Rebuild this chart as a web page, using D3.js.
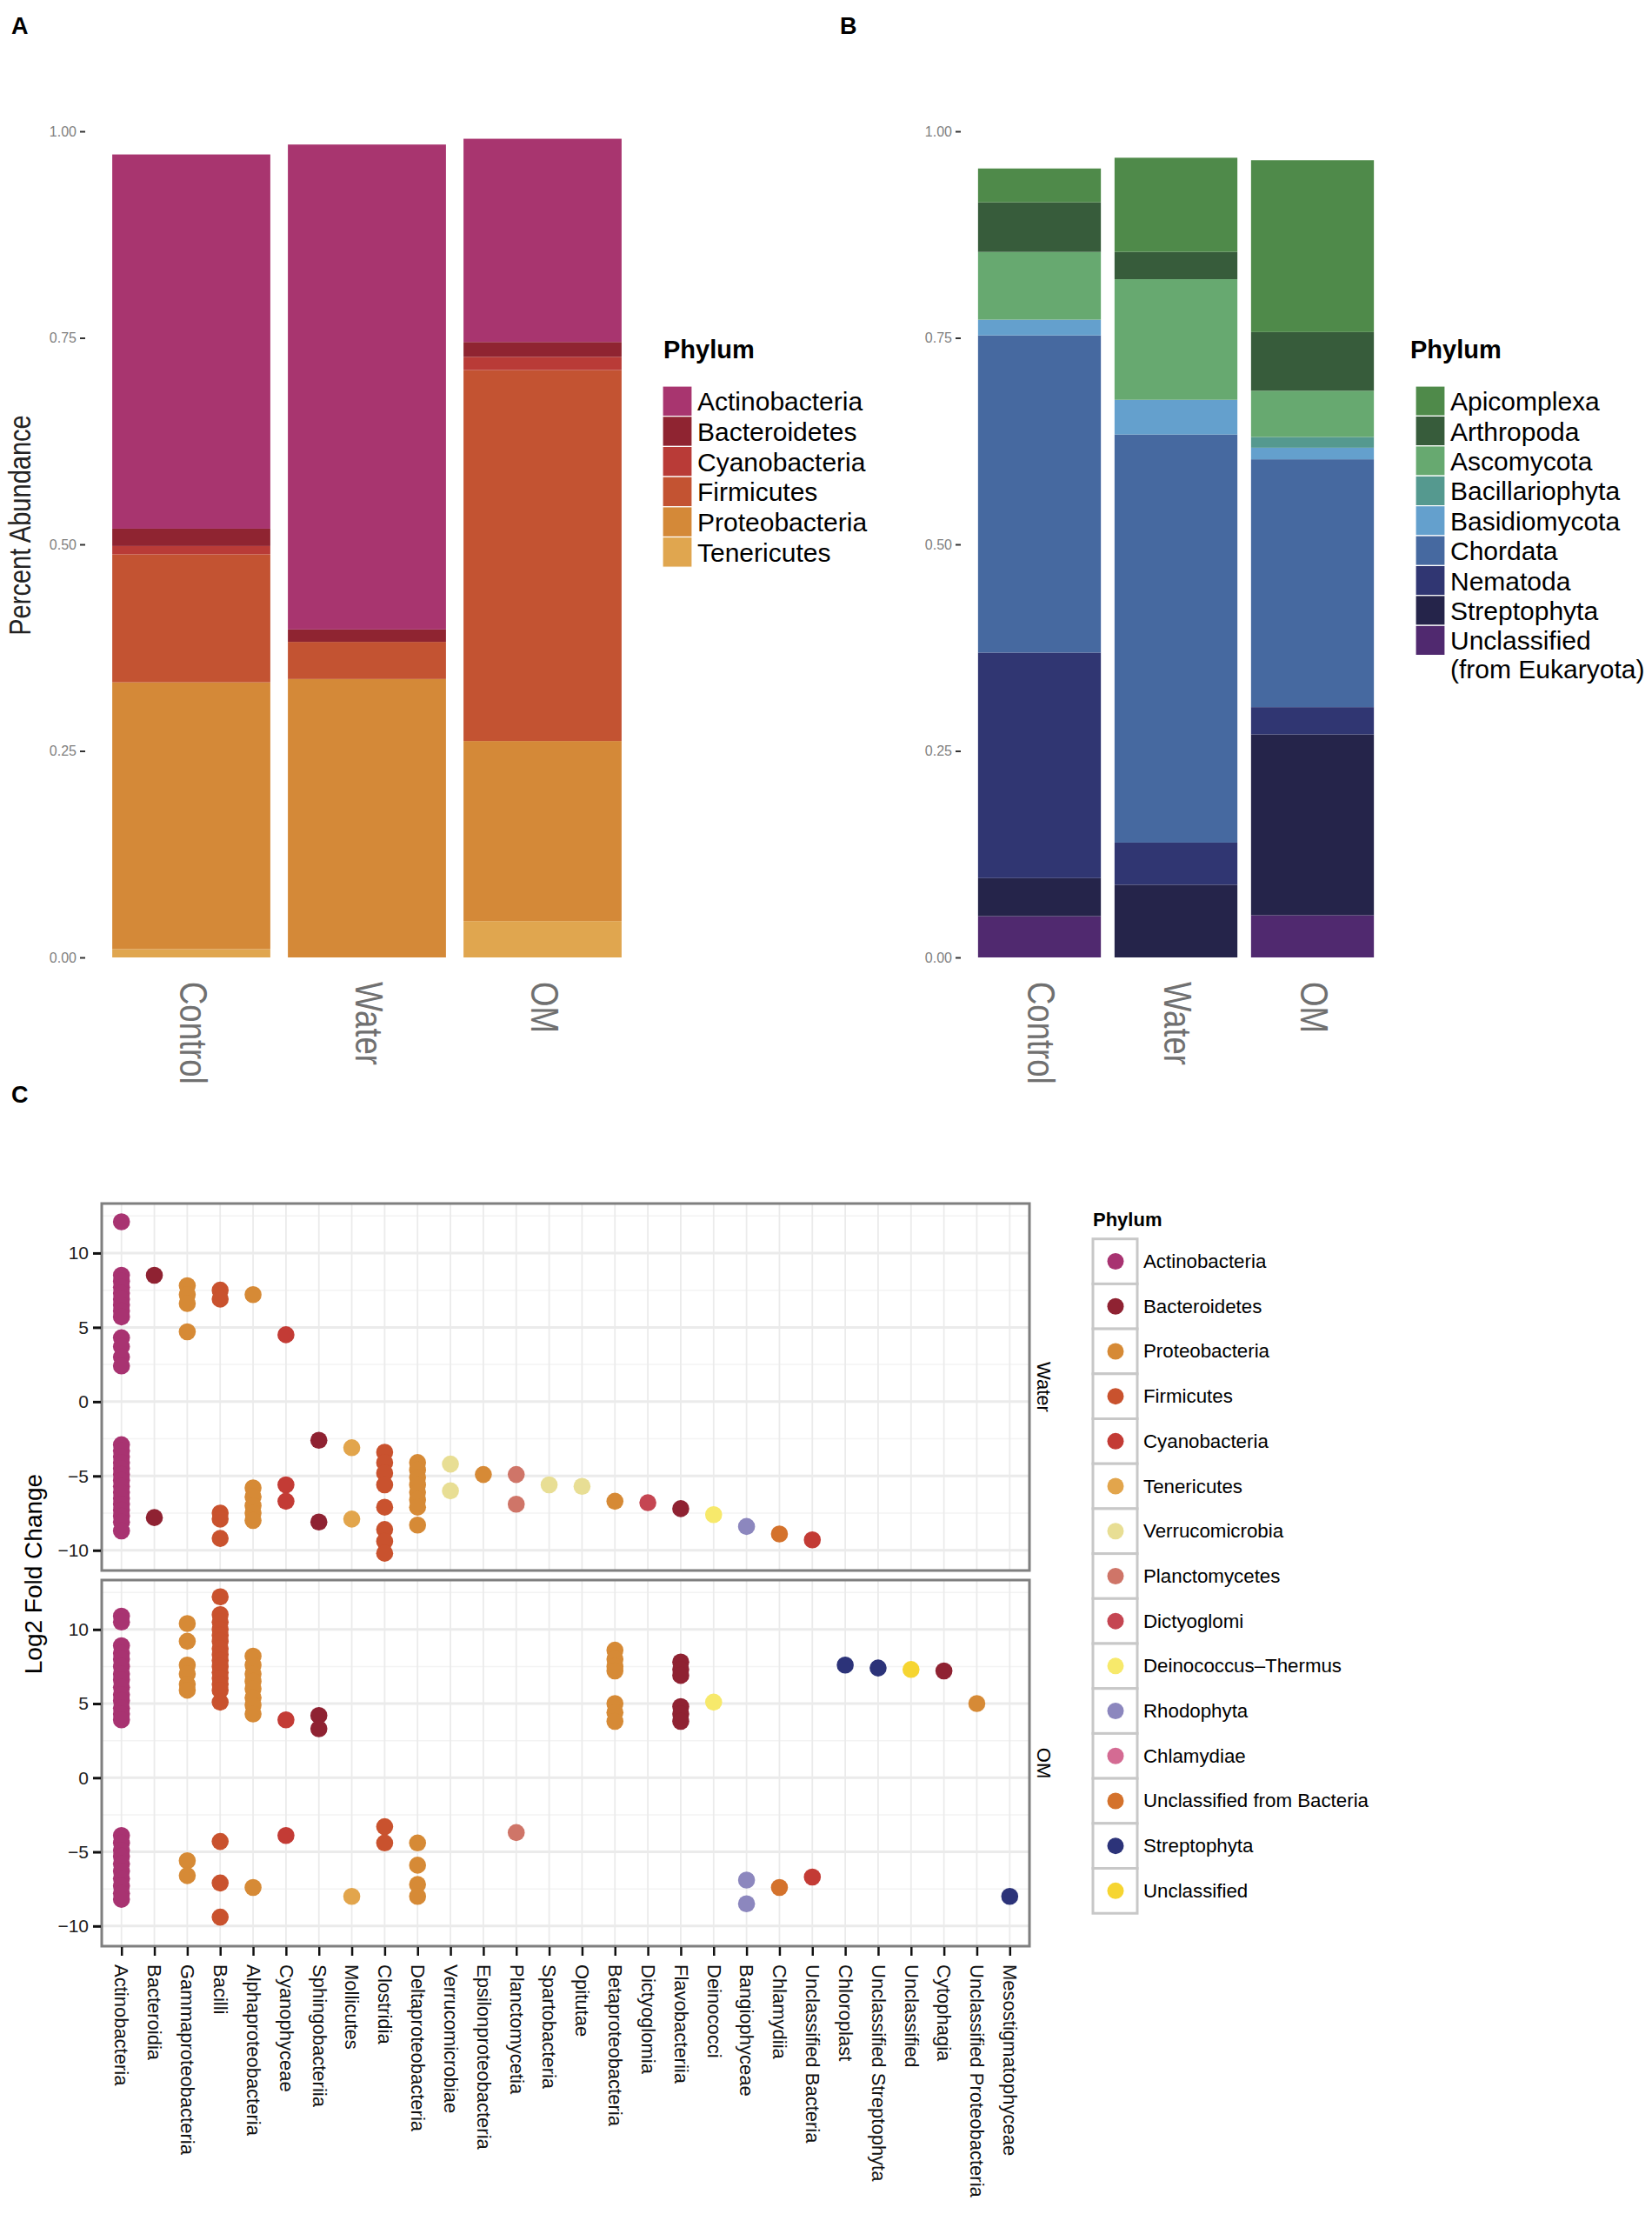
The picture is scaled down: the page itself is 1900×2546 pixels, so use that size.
<!DOCTYPE html>
<html>
<head>
<meta charset="utf-8">
<script src="https://cdn.jsdelivr.net/npm/d3@7"></script>
<style>
  body { margin: 0; background: #fff; }
  text { font-family: "Liberation Sans", Arial, Helvetica, sans-serif; }
</style>
</head>
<body>
<script>
// ---------- data: panels A / B (relative abundance) ----------
var treatments = ["Control", "Water", "OM"];

var bactPhyla = ["Actinobacteria", "Bacteroidetes", "Cyanobacteria", "Firmicutes", "Proteobacteria", "Tenericutes"];
var bactControl = [0.453, 0.021, 0.010, 0.155, 0.323, 0.010];
var bactWater   = [0.587, 0.015, 0.000, 0.045, 0.337, 0.000];
var bactOM      = [0.246, 0.018, 0.016, 0.449, 0.218, 0.044];

var eukPhyla = ["Apicomplexa", "Arthropoda", "Ascomycota", "Bacillariophyta", "Basidiomycota",
  "Chordata", "Nematoda", "Streptophyta", "Unclassified"];
var eukControl = [0.041, 0.060, 0.082, 0.000, 0.019, 0.384, 0.273, 0.046, 0.050];
var eukWater   = [0.114, 0.033, 0.146, 0.000, 0.042, 0.494, 0.051, 0.088, 0.000];
var eukOM      = [0.208, 0.071, 0.056, 0.013, 0.014, 0.300, 0.033, 0.219, 0.051];

var abTicks = [0, 0.25, 0.5, 0.75, 1];

// ---------- data: panel C (log2 fold change per class) ----------
var classes = ["Actinobacteria", "Bacteroidia", "Gammaproteobacteria", "Bacilli", "Alphaproteobacteria",
  "Cyanophyceae", "Sphingobacteriia", "Mollicutes", "Clostridia", "Deltaproteobacteria",
  "Verrucomicrobiae", "Epsilonproteobacteria", "Planctomycetia", "Spartobacteria", "Opitutae",
  "Betaproteobacteria", "Dictyoglomia", "Flavobacteriia", "Deinococci", "Bangiophyceae",
  "Chlamydiia", "Unclassified Bacteria", "Chloroplast", "Unclassified Streptophyta", "Unclassified",
  "Cytophagia", "Unclassified Proteobacteria", "Mesostigmatophyceae"];

// phylum (colour group) of each class, as it appears in the figure
var classPhylum = ["Actinobacteria", "Bacteroidetes", "Proteobacteria", "Firmicutes", "Proteobacteria",
  "Cyanobacteria", "Bacteroidetes", "Tenericutes", "Firmicutes", "Proteobacteria",
  "Verrucomicrobia", "Proteobacteria", "Planctomycetes", "Verrucomicrobia", "Verrucomicrobia",
  "Proteobacteria", "Dictyoglomi", "Bacteroidetes", "Deinococcus\u2013Thermus", "Rhodophyta",
  "Unclassified from Bacteria", "Cyanobacteria", "Streptophyta", "Streptophyta", "Unclassified",
  "Bacteroidetes", "Proteobacteria", "Streptophyta"];

var waterLfc = [
  [12.1, 8.5, 8.1, 7.7, 7.3, 6.9, 6.5, 6.1, 5.7, 4.3, 3.7, 3.0, 2.4, -2.9, -3.3, -3.7, -4.1, -4.5, -4.9, -5.3, -5.7, -6.1, -6.5, -6.9, -7.3, -7.7, -8.1, -8.7],
  [8.5, -7.8],
  [7.8, 7.2, 6.6, 4.7],
  [7.5, 6.9, -7.5, -7.9, -9.2],
  [7.2, -5.8, -6.4, -7.0, -7.5, -8.0],
  [4.5, -5.6, -6.7],
  [-2.6, -8.1],
  [-3.1, -7.9],
  [-3.4, -4.1, -4.8, -5.6, -7.1, -8.6, -9.4, -10.2],
  [-4.1, -4.6, -5.1, -5.6, -6.1, -6.6, -7.1, -8.3],
  [-4.2, -6.0],
  [-4.9],
  [-4.9, -6.9],
  [-5.6],
  [-5.7],
  [-6.7],
  [-6.8],
  [-7.2],
  [-7.6],
  [-8.4],
  [-8.9],
  [-9.3],
  [], [], [], [], [], []
];

var omLfc = [
  [10.9, 10.5, 8.9, 8.4, 8.0, 7.5, 7.0, 6.6, 6.1, 5.6, 5.2, 4.7, 4.3, 3.9, -3.9, -4.4, -4.9, -5.3, -5.8, -6.3, -6.8, -7.3, -7.8, -8.2],
  [],
  [10.4, 9.2, 7.6, 7.0, 6.3, 5.9, -5.6, -6.6],
  [12.2, 11.0, 10.5, 10.0, 9.6, 9.2, 8.7, 8.3, 7.9, 7.5, 7.1, 6.7, 6.3, 5.9, 5.1, -4.3, -7.1, -9.4],
  [8.2, 7.6, 7.0, 6.5, 6.0, 5.4, 4.9, 4.3, -7.4],
  [3.9, -3.9],
  [4.2, 3.3],
  [-8.0],
  [-3.3, -4.4],
  [-4.4, -5.9, -7.2, -8.0],
  [],
  [],
  [-3.7],
  [],
  [],
  [8.6, 8.0, 7.5, 7.2, 5.0, 4.4, 3.8],
  [],
  [7.8, 7.3, 6.9, 4.8, 4.3, 3.8],
  [5.1],
  [-6.9, -8.5],
  [-7.4],
  [-6.7],
  [7.6],
  [7.4],
  [7.3],
  [7.2],
  [5.0],
  [-8.0]
];

var legendPhylaC = ["Actinobacteria", "Bacteroidetes", "Proteobacteria", "Firmicutes", "Cyanobacteria",
  "Tenericutes", "Verrucomicrobia", "Planctomycetes", "Dictyoglomi", "Deinococcus\u2013Thermus",
  "Rhodophyta", "Chlamydiae", "Unclassified from Bacteria", "Streptophyta", "Unclassified"];

var lfcTicks = [-10, -5, 0, 5, 10];
var lfcMinor = [-7.5, -2.5, 2.5, 7.5, 12.5];
var facets = ["Water", "OM"];

// ---------- colours ----------
var bactColors = ["#a8356f", "#8f2431", "#b93b37", "#c35332", "#d48938", "#e0a64f"];
var eukColors = ["#4f8a4a", "#375c3b", "#67a970", "#55998f", "#64a0cd", "#4669a0", "#303672", "#25244a", "#50296f"];
var phylumColorsC = ["#a83371", "#8f2232", "#d68a36", "#c9522e", "#c33b35", "#e2a54c", "#e8de94",
  "#cf7568", "#c54652", "#f7e96b", "#8c87be", "#d46b93", "#d4722c", "#2c3379", "#f6d531"];

var svg = d3.select('body').append('svg')
  .attr('width', 1900)
  .attr('height', 2546);

// panel letters
svg.append('text').attr('x', 13).attr('y', 39).text('A')
  .style('font-size', '27px').style('font-weight', 'bold');
svg.append('text').attr('x', 966).attr('y', 39).text('B')
  .style('font-size', '27px').style('font-weight', 'bold');
svg.append('text').attr('x', 13).attr('y', 1268).text('C')
  .style('font-size', '27px').style('font-weight', 'bold');

// ---------- stacked bar panels ----------
var yAb = d3.scaleLinear().domain([0, 1]).range([1101, 151]);

function stackedPanel(cfg) {
  var rows = treatments.map(function(t, i) {
    var r = { treatment: t };
    cfg.keys.forEach(function(k, j) { r[k] = cfg.values[i][j]; });
    return r;
  });
  // ggplot stacks first level on top -> reverse for d3.stack
  var stack = d3.stack().keys(cfg.keys.slice().reverse());
  var series = stack(rows);
  var color = d3.scaleOrdinal().domain(cfg.keys).range(cfg.colors);

  var x = d3.scaleBand().domain(treatments)
    .range(cfg.range).paddingInner(0.1).paddingOuter(0.05);

  var g = svg.append('g');
  g.selectAll('g.layer').data(series).enter().append('g')
    .attr('class', 'layer')
    .attr('fill', function(d) { return color(d.key); })
    .selectAll('rect').data(function(d) { return d; }).enter().append('rect')
    .attr('x', function(d) { return x(d.data.treatment); })
    .attr('width', x.bandwidth())
    .attr('y', function(d) { return yAb(d[1]); })
    .attr('height', function(d) { return Math.max(0, yAb(d[0]) - yAb(d[1])); });

  // y axis (ticks only)
  var ax = svg.append('g')
    .attr('transform', 'translate(' + cfg.axisX + ',0)')
    .call(d3.axisLeft(yAb).tickValues(abTicks).tickFormat(d3.format('.2f')).tickSize(6).tickPadding(4));
  ax.select('.domain').remove();
  ax.selectAll('line').attr('stroke', '#333').attr('stroke-width', 2);
  ax.selectAll('text').attr('fill', '#7f7f7f').style('font-size', '16px');

  // x labels, rotated and condensed
  svg.append('g').selectAll('text').data(treatments).enter().append('text')
    .attr('transform', function(d) {
      return 'translate(' + (x(d) + x.bandwidth() / 2 + 2) + ',1129) rotate(90) scale(0.83,1)';
    })
    .attr('dominant-baseline', 'central')
    .attr('fill', '#707070')
    .style('font-size', '44px')
    .text(function(d) { return d; });

  // legend
  var lg = svg.append('g');
  lg.append('text').attr('x', cfg.legX).attr('y', 412).text('Phylum')
    .style('font-size', '29px').style('font-weight', 'bold');
  var keyH = cfg.keyH;
  lg.selectAll('rect').data(cfg.keys).enter().append('rect')
    .attr('x', cfg.keyX).attr('width', 34)
    .attr('y', function(d, i) { return 444 + i * keyH; })
    .attr('height', keyH)
    .attr('fill', function(d) { return color(d); })
    .attr('stroke', '#fff').attr('stroke-width', 1.2);
  lg.selectAll('text.lab').data(cfg.labels).enter().append('text')
    .attr('class', 'lab')
    .attr('x', cfg.keyX + 40)
    .attr('y', function(d, i) { return 444 + i * keyH + keyH / 2; })
    .attr('dominant-baseline', 'central')
    .style('font-size', '30px')
    .each(function(d) {
      var lines = d.split('\n');
      var t = d3.select(this);
      lines.forEach(function(l, k) {
        t.append('tspan').attr('x', cfg.keyX + 40).attr('dy', k === 0 ? 0 : 33).text(l);
      });
    });
}

stackedPanel({
  keys: bactPhyla, labels: bactPhyla, colors: bactColors,
  values: [bactControl, bactWater, bactOM],
  range: [119, 725], axisX: 98, legX: 763, keyX: 762, keyH: 34.7
});
stackedPanel({
  keys: eukPhyla, labels: eukPhyla.slice(0, 8).concat(['Unclassified\n(from Eukaryota)']),
  colors: eukColors,
  values: [eukControl, eukWater, eukOM],
  range: [1117, 1588], axisX: 1105, legX: 1622, keyX: 1628, keyH: 34.4
});

// y title panel A
svg.append('text')
  .attr('transform', 'translate(23,604) rotate(-90) scale(0.83,1)')
  .attr('text-anchor', 'middle').attr('dominant-baseline', 'central')
  .style('font-size', '35px').attr('fill', '#222')
  .text('Percent Abundance');

// ---------- panel C: faceted dot plot ----------
var xC = d3.scalePoint().domain(classes).range([117, 1184]).padding(0.6);
var colorC = d3.scaleOrdinal().domain(legendPhylaC).range(phylumColorsC);
var facetBox = [[1384, 1806], [1817, 2238]];
var facetData = [waterLfc, omLfc];

facets.forEach(function(f, fi) {
  var top = facetBox[fi][0], bot = facetBox[fi][1];
  var y = d3.scaleLinear().domain([-11.36, 13.33]).range([bot, top]);
  var g = svg.append('g');

  // grid
  g.selectAll('line.minor').data(lfcMinor).enter().append('line')
    .attr('x1', 117).attr('x2', 1184)
    .attr('y1', function(d) { return y(d); }).attr('y2', function(d) { return y(d); })
    .attr('stroke', '#f3f3f3').attr('stroke-width', 1.5);
  g.selectAll('line.vmaj').data(classes).enter().append('line')
    .attr('x1', function(d) { return xC(d); }).attr('x2', function(d) { return xC(d); })
    .attr('y1', top).attr('y2', bot)
    .attr('stroke', '#ebebeb').attr('stroke-width', 1.8);
  g.selectAll('line.hmaj').data(lfcTicks).enter().append('line')
    .attr('x1', 117).attr('x2', 1184)
    .attr('y1', function(d) { return y(d); }).attr('y2', function(d) { return y(d); })
    .attr('stroke', '#ebebeb').attr('stroke-width', 3);

  // points
  var pts = [];
  facetData[fi].forEach(function(vals, ci) {
    vals.forEach(function(v) { pts.push({ cls: classes[ci], phylum: classPhylum[ci], v: v }); });
  });
  g.selectAll('circle').data(pts).enter().append('circle')
    .attr('cx', function(d) { return xC(d.cls); })
    .attr('cy', function(d) { return y(d.v); })
    .attr('r', 9.8)
    .attr('fill', function(d) { return colorC(d.phylum); });

  // border
  g.append('rect').attr('x', 117).attr('y', top).attr('width', 1184 - 117).attr('height', bot - top)
    .attr('fill', 'none').attr('stroke', '#7f7f7f').attr('stroke-width', 3);

  // y axis
  var ax = svg.append('g').attr('transform', 'translate(116,0)')
    .call(d3.axisLeft(y).tickValues(lfcTicks).tickSize(9).tickPadding(5));
  ax.select('.domain').remove();
  ax.selectAll('line').attr('stroke', '#111').attr('stroke-width', 3);
  ax.selectAll('text').attr('fill', '#222').style('font-size', '21px');

  // facet strip label
  svg.append('text')
    .attr('transform', 'translate(1200,' + ((top + bot) / 2) + ') rotate(90)')
    .attr('text-anchor', 'middle').attr('dominant-baseline', 'central')
    .style('font-size', '22px')
    .text(f);
});

// x axis panel C
var axX = svg.append('g').attr('transform', 'translate(0,2239)')
  .call(d3.axisBottom(xC).tickSize(10));
axX.select('.domain').remove();
axX.selectAll('line').attr('stroke', '#111').attr('stroke-width', 2.5);
axX.selectAll('text')
  .attr('transform', 'rotate(90)')
  .attr('x', 20).attr('y', 0).attr('dy', '0.35em')
  .style('text-anchor', 'start')
  .attr('fill', '#111')
  .style('font-size', '22px');

// y title panel C
svg.append('text')
  .attr('transform', 'translate(38,1810) rotate(-90)')
  .attr('text-anchor', 'middle').attr('dominant-baseline', 'central')
  .style('font-size', '28px')
  .text('Log2 Fold Change');

// legend panel C
var lgC = svg.append('g');
lgC.append('text').attr('x', 1257).attr('y', 1410).text('Phylum')
  .style('font-size', '22px').style('font-weight', 'bold');
var rowC = 51.7, topC = 1424.7;
lgC.selectAll('rect').data(legendPhylaC).enter().append('rect')
  .attr('x', 1257).attr('width', 51)
  .attr('y', function(d, i) { return topC + i * rowC; })
  .attr('height', rowC)
  .attr('fill', '#fff').attr('stroke', '#c8c8c8').attr('stroke-width', 3);
lgC.selectAll('circle').data(legendPhylaC).enter().append('circle')
  .attr('cx', 1283)
  .attr('cy', function(d, i) { return topC + i * rowC + rowC / 2; })
  .attr('r', 9.5)
  .attr('fill', function(d) { return colorC(d); });
lgC.selectAll('text.lab').data(legendPhylaC).enter().append('text')
  .attr('class', 'lab')
  .attr('x', 1315)
  .attr('y', function(d, i) { return topC + i * rowC + rowC / 2; })
  .attr('dominant-baseline', 'central')
  .style('font-size', '22.3px')
  .text(function(d) { return d; });
</script>
</body>
</html>
